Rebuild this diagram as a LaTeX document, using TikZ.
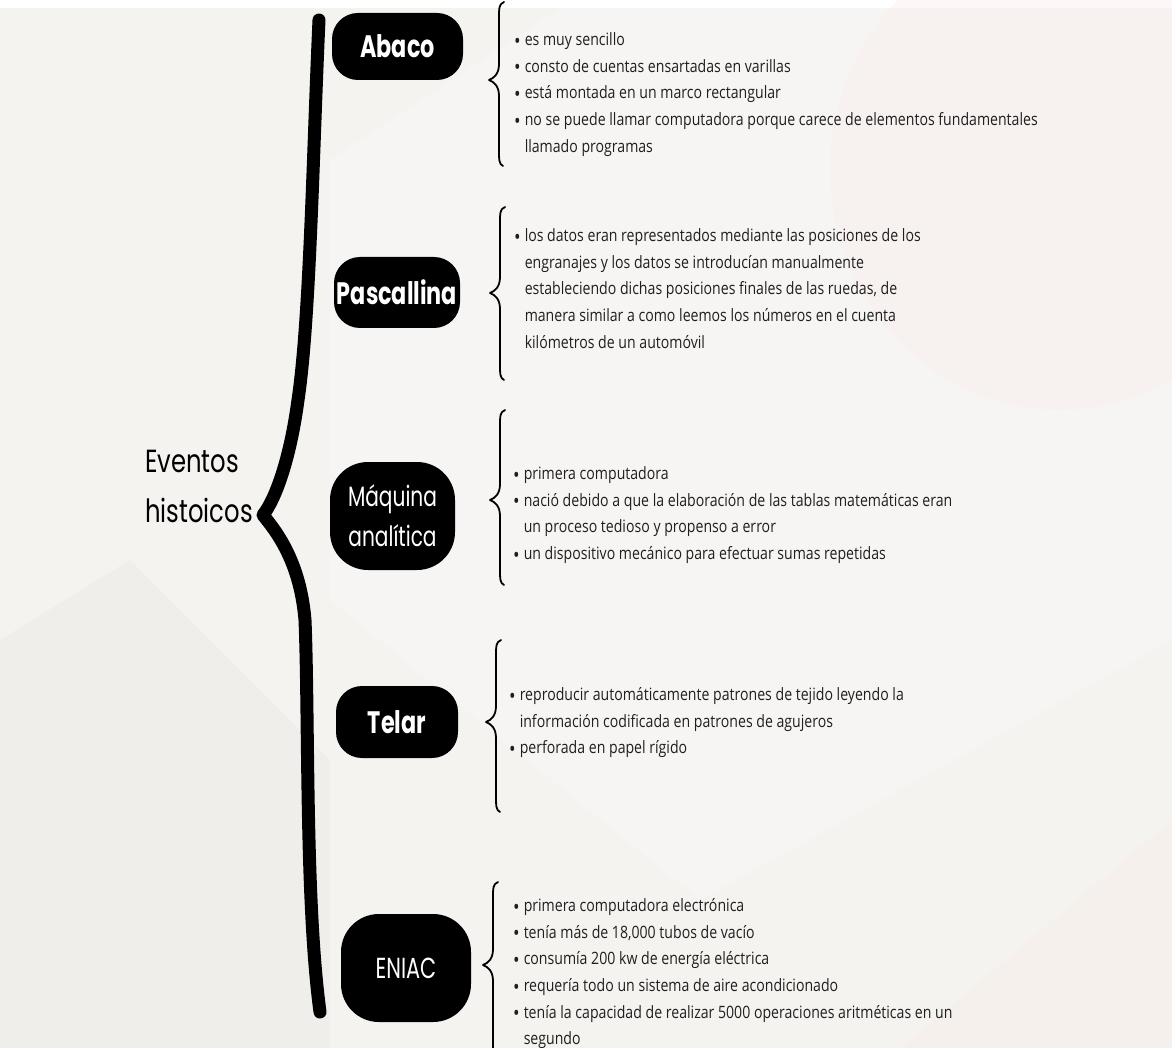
\documentclass[tikz,border=0pt]{standalone}
\usepackage{fontspec}
\setmainfont{Open Sans}
\newfontfamily\popfont{Poppins}[FakeStretch=0.72]
\newfontfamily\rootfont{Poppins}[FakeStretch=0.76]
\newfontfamily\bodyfont{Open Sans}[FakeStretch=0.83]
\definecolor{bgbase}{RGB}{245,243,240}
\definecolor{bgpink}{RGB}{250,236,234}
\definecolor{bggray}{RGB}{238,236,233}
\definecolor{bglight}{RGB}{248,247,245}
\newcommand\mybrace[4]{% x, ytop, ymid, ybot
  \draw[smallbrace] (#1+5,#2) .. controls (#1,#2+2) and (#1,#2+6) .. (#1,#2+16)
    -- (#1,#3-16) .. controls (#1,#3-6) and (#1-5,#3-2) .. (#1-10,#3)
    .. controls (#1-5,#3+2) and (#1,#3+6) .. (#1,#3+16)
    -- (#1,#4-16) .. controls (#1,#4-6) and (#1,#4-2) .. (#1+4,#4);}
\newcommand\bul{{\fontsize{21}{21}\selectfont\raisebox{-2.8pt}{•}}}
\tikzset{
  box/.style={fill=black, text=white, rounded corners=#1, inner sep=0pt, align=center},
  box/.default=26pt,
  smallbrace/.style={line width=1.8pt, black, line cap=round, line join=round},
  bigbrace/.style={line width=13pt, black, line cap=round, line join=round},
  bullets/.style={anchor=north west, inner sep=0pt, align=left, text=black!88, font=\bodyfont\fontsize{17}{26.7}\selectfont}
}
\begin{document}
\begin{tikzpicture}[x=1pt,y=-1pt]
\useasboundingbox (0,0) rectangle (1172,1048);
% background
\fill[white] (0,0) rectangle (1172,1048);
\fill[bgbase] (0,8) rectangle (1172,1048);
\fill[bglight, opacity=0.6] (330,160) -- (560,8) -- (1172,8) -- (1172,640) -- (700,900) -- (330,600) -- cycle;
\fill[bgpink, opacity=0.35] (1060,170) ellipse (230 and 240);
\fill[bggray, opacity=0.7] (0,640) -- (130,560) -- (330,760) -- (330,1048) -- (0,1048) -- cycle;
\fill[bgpink, opacity=0.35] (900,1048) -- (1172,820) -- (1172,1048) -- cycle;

% root text
\node[anchor=west, inner sep=0pt, align=left, font=\rootfont\fontsize{32}{50}\selectfont] (root) at (145,486) {Eventos\\histoicos};

% big brace
\draw[bigbrace] (319,20) .. controls (313,150) and (310,320) .. (298,400)
  .. controls (290,460) and (275,500) .. (263,515)
  .. controls (275,530) and (300,560) .. (305,620)
  .. controls (309,720) and (305,900) .. (320,1012);

% boxes
\node[box, minimum width=131pt, minimum height=67pt, font=\popfont\bfseries\fontsize{31}{34}\selectfont] (abaco) at (397.5,46.5) {Abaco};
\node[box, minimum width=126pt, minimum height=71pt, font=\popfont\bfseries\fontsize{31}{34}\selectfont] (pascal) at (397,292.5) {Pascallina};
\node[box=38pt, minimum width=125pt, minimum height=108pt, font=\popfont\fontsize{28}{40}\selectfont] (maquina) at (392.5,516) {Máquina\\analítica};
\node[box, minimum width=122pt, minimum height=72pt, font=\popfont\bfseries\fontsize{31}{34}\selectfont] (telar) at (397,722) {Telar};
\node[box=38pt, minimum width=130pt, minimum height=108pt, font=\popfont\fontsize{29}{34}\selectfont] (eniac) at (406,968) {ENIAC};

% small braces
\mybrace{499}{2}{80}{166}
\mybrace{500}{207}{293}{380}
\mybrace{500}{410}{500}{585}
\mybrace{496}{640}{722}{812}
\mybrace{493}{882}{965}{1060}

% bullet texts
\node[bullets] (tabaco) at (514,26.5) {\begin{tabular}{@{}l@{\hspace{4pt}}l@{}}
\bul&es muy sencillo\\
\bul&consto de cuentas ensartadas en varillas\\
\bul&está montada en un marco rectangular\\
\bul&no se puede llamar computadora porque carece de elementos fundamentales\\
&llamado programas
\end{tabular}};
\node[bullets] (tpascal) at (514,222.5) {\begin{tabular}{@{}l@{\hspace{4pt}}l@{}}
\bul&los datos eran representados mediante las posiciones de los\\
&engranajes y los datos se introducían manualmente\\
&estableciendo dichas posiciones finales de las ruedas, de\\
&manera similar a como leemos los números en el cuenta\\
&kilómetros de un automóvil
\end{tabular}};
\node[bullets] (tmaquina) at (513,460.5) {\begin{tabular}{@{}l@{\hspace{4pt}}l@{}}
\bul&primera computadora\\
\bul&nació debido a que la elaboración de las tablas matemáticas eran\\
&un proceso tedioso y propenso a error\\
\bul&un dispositivo mecánico para efectuar sumas repetidas
\end{tabular}};
\node[bullets] (ttelar) at (509,681.5) {\begin{tabular}{@{}l@{\hspace{4pt}}l@{}}
\bul&reproducir automáticamente patrones de tejido leyendo la\\
&información codificada en patrones de agujeros\\
\bul&perforada en papel rígido
\end{tabular}};
\node[bullets] (teniac) at (513,892.5) {\begin{tabular}{@{}l@{\hspace{4pt}}l@{}}
\bul&primera computadora electrónica\\
\bul&tenía más de 18,000 tubos de vacío\\
\bul&consumía 200 kw de energía eléctrica\\
\bul&requería todo un sistema de aire acondicionado\\
\bul&tenía la capacidad de realizar 5000 operaciones aritméticas en un\\
&segundo
\end{tabular}};
\end{tikzpicture}
\end{document}
